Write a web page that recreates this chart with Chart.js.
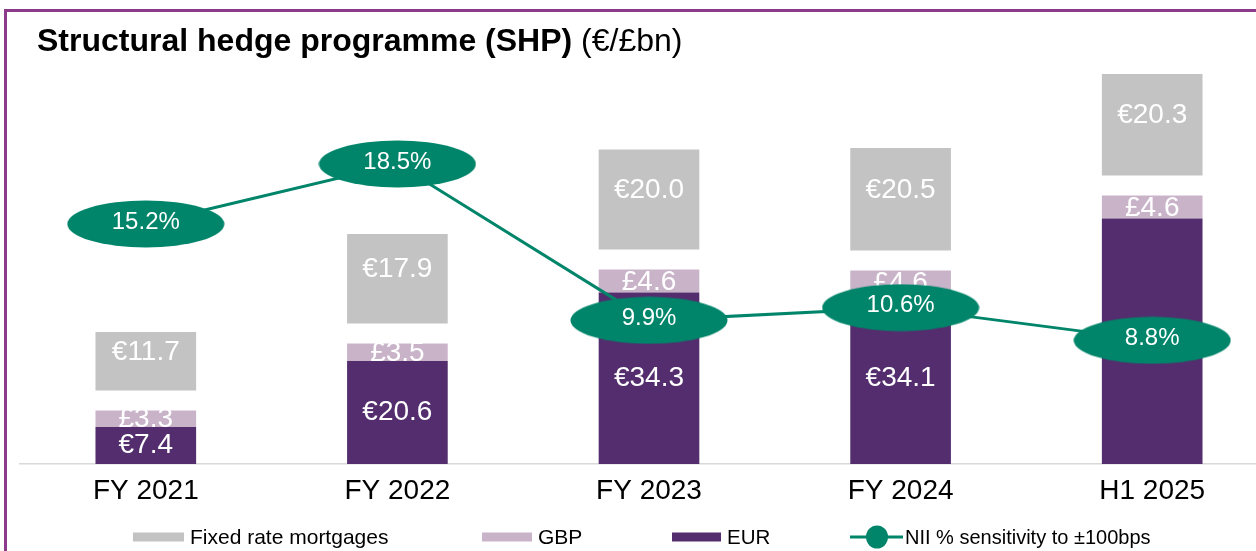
<!DOCTYPE html>
<html>
<head>
<meta charset="utf-8">
<script src="https://cdn.jsdelivr.net/npm/chart.js@4/dist/chart.umd.min.js"></script>
<style>
  html, body { margin: 0; padding: 0; background: #fff; overflow: hidden; width: 1256px; height: 551px; }
  #frame { position: absolute; left: 4px; top: 9px; width: 1400px; height: 700px;
           border-top: 3px solid #8C3A8C; border-left: 3px solid #8C3A8C; box-sizing: border-box; }
  #title { position: absolute; left: 37px; top: 21px; font-family: "Liberation Sans", Arial, sans-serif;
           font-size: 32px; line-height: 38px; color: #000; white-space: nowrap; }
  #title b { font-weight: bold; }
  #c { position: absolute; left: 0; top: 0; width: 1282px; height: 551px; }
</style>
</head>
<body>
<canvas id="c" width="1282" height="551"></canvas>
<div id="frame"></div>
<div id="title"><b>Structural hedge programme (SHP)</b> (€/£bn)</div>
<script>
const categories = ['FY 2021', 'FY 2022', 'FY 2023', 'FY 2024', 'H1 2025'];
const eur = [7.4, 20.6, 34.3, 34.1, 49.1];
const gbp = [3.3, 3.5, 4.6, 4.6, 4.6];
const gapBetween = [4, 4, 4, 4, 4];
const fixedRate = [11.7, 17.9, 20.0, 20.5, 20.3];
const niiSensitivity = [15.2, 18.5, 9.9, 10.6, 8.8];

const C_FRM = '#C3C3C3', C_GBP = '#C9B3C9', C_EUR = '#532D6D', C_LINE = '#00856A';
const FONT = '"Liberation Sans", Arial, sans-serif';

function ellipseImg(w, h, color) {
  const c = document.createElement('canvas');
  c.width = w; c.height = h;
  const x = c.getContext('2d');
  x.fillStyle = color;
  x.beginPath();
  x.ellipse(w / 2, h / 2, w / 2 - 0.5, h / 2 - 0.5, 0, 0, Math.PI * 2);
  x.fill();
  return c;
}
const ellipse = ellipseImg(158, 48, C_LINE);

const prefix = { eur: '€', gbp: '£', frm: '€' };

const barLabels = {
  id: 'barLabels',
  afterDatasetDraw(chart, args) {
    const ds = chart.data.datasets[args.index];
    if (!ds.labelKey) return;
    const ctx = chart.ctx;
    ctx.save();
    ctx.font = '28px ' + FONT;
    ctx.fillStyle = '#FFFFFF';
    ctx.textAlign = 'center';
    ctx.textBaseline = 'middle';
    args.meta.data.forEach((el, i) => {
      const v = ds.data[i];
      const p = el.getProps(['x', 'y', 'base'], true);
      let y = (p.y + p.base) / 2;
      if (ds.labelKey === 'frm') y -= 9;
      if (ds.labelKey === 'gbp') y += 1;
      ctx.fillText(prefix[ds.labelKey] + v.toFixed(1), p.x, y);
    });
    ctx.restore();
  }
};

const lineLabels = {
  id: 'lineLabels',
  afterDatasetDraw(chart, args) {
    const ds = chart.data.datasets[args.index];
    if (ds.type !== 'line') return;
    const ctx = chart.ctx;
    ctx.save();
    ctx.font = '24px ' + FONT;
    ctx.fillStyle = '#FFFFFF';
    ctx.textAlign = 'center';
    ctx.textBaseline = 'middle';
    args.meta.data.forEach((el, i) => {
      ctx.fillText(ds.data[i].toFixed(1) + '%', el.x, el.y - 2);
    });
    ctx.restore();
  }
};

const customLegend = {
  id: 'customLegend',
  afterDraw(chart) {
    const ctx = chart.ctx;
    const y = 537;
    ctx.save();
    ctx.textBaseline = 'middle';
    ctx.textAlign = 'left';
    const items = [
      { color: C_FRM, text: chart.data.datasets[3].label, x: 133, w: 51, fs: 21 },
      { color: C_GBP, text: chart.data.datasets[1].label, x: 482, w: 50, fs: 21 },
      { color: C_EUR, text: chart.data.datasets[0].label, x: 672, w: 49, fs: 20.5 },
    ];
    items.forEach(it => {
      ctx.fillStyle = it.color;
      ctx.fillRect(it.x, y - 4.5, it.w, 9);
      ctx.fillStyle = '#000';
      ctx.font = it.fs + 'px ' + FONT;
      ctx.fillText(it.text, it.x + it.w + 6, y + 1);
    });
    ctx.strokeStyle = C_LINE;
    ctx.lineWidth = 3;
    ctx.beginPath();
    ctx.moveTo(850, y); ctx.lineTo(903, y); ctx.stroke();
    ctx.fillStyle = C_LINE;
    ctx.beginPath();
    ctx.ellipse(877, y, 11, 11.5, 0, 0, Math.PI * 2);
    ctx.fill();
    ctx.fillStyle = '#000';
    ctx.font = '20px ' + FONT;
    ctx.fillText(chart.data.datasets[4].label, 905, y + 1);
    ctx.restore();
  }
};

new Chart(document.getElementById('c'), {
  data: {
    labels: categories,
    datasets: [
      { type: 'bar', label: 'EUR', data: eur, backgroundColor: C_EUR, stack: 's', order: 1, yAxisID: 'y', labelKey: 'eur' },
      { type: 'bar', label: 'GBP', data: gbp, backgroundColor: C_GBP, stack: 's', order: 1, yAxisID: 'y', labelKey: 'gbp' },
      { type: 'bar', label: 'gap', data: gapBetween, backgroundColor: 'rgba(0,0,0,0)', stack: 's', order: 1, yAxisID: 'y' },
      { type: 'bar', label: 'Fixed rate mortgages', data: fixedRate, backgroundColor: C_FRM, stack: 's', order: 1, yAxisID: 'y', labelKey: 'frm' },
      { type: 'line', label: 'NII % sensitivity to ±100bps', data: niiSensitivity, borderColor: C_LINE, borderWidth: 3,
        pointStyle: ellipse, pointRadius: 24, pointHoverRadius: 24, order: 0, yAxisID: 'y2', tension: 0, clip: false }
    ]
  },
  options: {
    responsive: false,
    maintainAspectRatio: false,
    animation: false,
    events: [],
    layout: { autoPadding: false, padding: { left: 20, right: 4, top: 64, bottom: 0 } },
    datasets: { bar: { categoryPercentage: 1.0, barPercentage: 0.4, borderWidth: 0 } },
    plugins: { legend: { display: false }, tooltip: { enabled: false } },
    scales: {
      x: {
        stacked: true,
        grid: { display: false, drawTicks: false },
        border: { display: true, color: '#D9D9D9', width: 1.5 },
        ticks: { color: '#000', font: { family: FONT, size: 28 }, padding: 10 },
        afterFit(s) { s.height = 87; }
      },
      y: { stacked: true, display: false, min: 0, max: 80 },
      y2: { display: false, min: 2, max: 24 }
    }
  },
  plugins: [barLabels, lineLabels, customLegend]
});
</script>
</body>
</html>
